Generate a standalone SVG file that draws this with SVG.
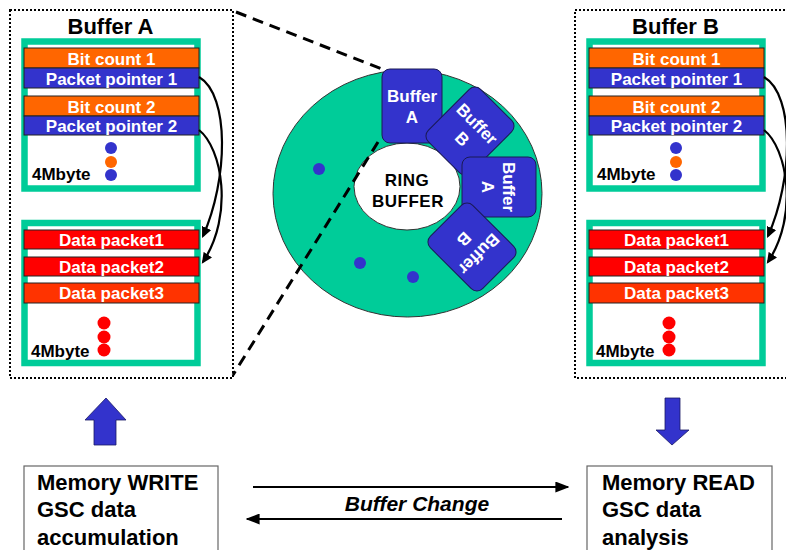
<svg xmlns="http://www.w3.org/2000/svg" width="786" height="550" viewBox="0 0 786 550">
<defs>
<style>
text{font-family:"Liberation Sans",Arial,sans-serif;font-weight:bold}
.dot{fill:none;stroke:#000;stroke-width:2;stroke-dasharray:2 2}
.grn{fill:#fff;stroke:#00CC99;stroke-width:6.5}
.bar{stroke:#222;stroke-width:1}
.org{fill:#FF6600}.blu{fill:#3333CC}.red{fill:#FF0000}.red3{fill:#FF3300}
.bt{fill:#fff;font-size:17px;text-anchor:middle}
.title{font-size:22px;fill:#000;text-anchor:middle}
.mb{font-size:17px;fill:#000}
.blk{fill:#3333CC;stroke:#1a1a55;stroke-width:1}
.bk{fill:#fff;font-size:17px;text-anchor:middle}
.curve{fill:none;stroke:#000;stroke-width:2.2;marker-end:url(#ah)}
.box{fill:#fff;stroke:#666;stroke-width:1.2}
.bx{font-size:22px;fill:#000}
.dash{stroke:#000;stroke-width:3;stroke-dasharray:11 7;fill:none}
</style>
<marker id="ah" viewBox="0 0 10 10" refX="8" refY="5" markerWidth="11" markerHeight="10" orient="auto" markerUnits="userSpaceOnUse" preserveAspectRatio="none">
<path d="M0,0 L10,5 L0,10 z" fill="#000"/>
</marker>
<marker id="ah2" viewBox="0 0 10 10" refX="9" refY="5" markerWidth="14" markerHeight="11" orient="auto" markerUnits="userSpaceOnUse" preserveAspectRatio="none">
<path d="M0,0 L10,5 L0,10 z" fill="#000"/>
</marker>
</defs>
<rect width="786" height="550" fill="#fff"/>

<g id="bufferA">
<rect class="dot" x="10" y="10" width="223" height="368"/>
<text class="title" x="110.5" y="34">Buffer A</text>
<rect class="grn" x="24.5" y="41.5" width="173" height="147"/>
<rect class="bar org" x="24" y="48" width="175" height="20"/>
<text class="bt" x="111.5" y="65">Bit count 1</text>
<rect class="bar blu" x="24" y="68" width="175" height="20"/>
<text class="bt" x="111.5" y="85">Packet pointer 1</text>
<rect class="bar org" x="24" y="96" width="175" height="20"/>
<text class="bt" x="111.5" y="113">Bit count 2</text>
<rect class="bar blu" x="24" y="116" width="175" height="19"/>
<text class="bt" x="111.5" y="132">Packet pointer 2</text>
<circle cx="111" cy="148" r="6" fill="#3333CC"/>
<circle cx="111" cy="162" r="6" fill="#FF6600"/>
<circle cx="111" cy="175" r="6" fill="#3333CC"/>
<text class="mb" x="32" y="180">4Mbyte</text>
<rect class="grn" x="24.5" y="223" width="173" height="140"/>
<rect class="bar red" x="24" y="230" width="175" height="19"/>
<text class="bt" x="111.5" y="246">Data packet1</text>
<rect class="bar red" x="24" y="257" width="175" height="19"/>
<text class="bt" x="111.5" y="273">Data packet2</text>
<rect class="bar red3" x="24" y="283" width="175" height="20"/>
<text class="bt" x="111.5" y="299">Data packet3</text>
<circle cx="104" cy="323" r="6.5" fill="#FF0000"/>
<circle cx="104" cy="337" r="6.5" fill="#FF0000"/>
<circle cx="104" cy="350" r="6.5" fill="#FF0000"/>
<text class="mb" x="31" y="357">4Mbyte</text>
</g>

<g id="bufferB">
<rect class="dot" x="575" y="10" width="230" height="368"/>
<text class="title" x="675.5" y="34">Buffer B</text>
<rect class="grn" x="589.5" y="41.5" width="173" height="147"/>
<rect class="bar org" x="589" y="48" width="175" height="20"/>
<text class="bt" x="676.5" y="65">Bit count 1</text>
<rect class="bar blu" x="589" y="68" width="175" height="20"/>
<text class="bt" x="676.5" y="85">Packet pointer 1</text>
<rect class="bar org" x="589" y="96" width="175" height="20"/>
<text class="bt" x="676.5" y="113">Bit count 2</text>
<rect class="bar blu" x="589" y="116" width="175" height="19"/>
<text class="bt" x="676.5" y="132">Packet pointer 2</text>
<circle cx="676" cy="148" r="6" fill="#3333CC"/>
<circle cx="676" cy="162" r="6" fill="#FF6600"/>
<circle cx="676" cy="175" r="6" fill="#3333CC"/>
<text class="mb" x="597" y="180">4Mbyte</text>
<rect class="grn" x="589.5" y="223" width="173" height="140"/>
<rect class="bar red" x="589" y="230" width="175" height="19"/>
<text class="bt" x="676.5" y="246">Data packet1</text>
<rect class="bar red" x="589" y="257" width="175" height="19"/>
<text class="bt" x="676.5" y="273">Data packet2</text>
<rect class="bar red3" x="589" y="283" width="175" height="20"/>
<text class="bt" x="676.5" y="299">Data packet3</text>
<circle cx="669" cy="323" r="6.5" fill="#FF0000"/>
<circle cx="669" cy="337" r="6.5" fill="#FF0000"/>
<circle cx="669" cy="350" r="6.5" fill="#FF0000"/>
<text class="mb" x="596" y="357">4Mbyte</text>
</g>

<g id="ring">
<ellipse cx="407.5" cy="193.5" rx="134.5" ry="123.5" fill="#00CC99" stroke="#333" stroke-width="1"/>
<ellipse cx="407" cy="186.5" rx="53" ry="43.5" fill="#fff" stroke="#333" stroke-width="1"/>
<text x="407" y="186" font-size="17" text-anchor="middle" letter-spacing="0.5" fill="#000">RING</text>
<text x="408" y="207" font-size="17" text-anchor="middle" letter-spacing="0.5" fill="#000">BUFFER</text>
<circle cx="319" cy="169" r="6" fill="#3333CC"/>
<circle cx="360" cy="263" r="6" fill="#3333CC"/>
<circle cx="413" cy="277" r="6" fill="#3333CC"/>
</g>
<g id="blockA1" transform="translate(412,106)">
<rect class="blk" x="-30" y="-37" width="60" height="74" rx="8"/>
<text class="bk" x="0" y="-4">Buffer</text><text class="bk" x="0" y="17">A</text>
</g>
<g id="blockB1" transform="translate(470,131) rotate(45)">
<rect class="blk" x="-30" y="-37" width="60" height="74" rx="8"/>
<text class="bk" x="0" y="-4">Buffer</text><text class="bk" x="0" y="17">B</text>
</g>
<g id="blockA2" transform="translate(499,187) rotate(90)">
<rect class="blk" x="-30" y="-37" width="60" height="74" rx="8"/>
<text class="bk" x="0" y="-4">Buffer</text><text class="bk" x="0" y="17">A</text>
</g>
<g id="blockB2" transform="translate(472,247) rotate(135)">
<rect class="blk" x="-30" y="-37" width="60" height="74" rx="8"/>
<text class="bk" x="0" y="-4">Buffer</text><text class="bk" x="0" y="17">B</text>
</g>

<g id="writeBox">
<rect class="box" x="24" y="466" width="194" height="100"/>
<text class="bx" x="37" y="490">Memory WRITE</text>
<text class="bx" x="37" y="517">GSC data</text>
<text class="bx" x="37" y="545">accumulation</text>
</g>
<g id="readBox">
<rect class="box" x="587" y="466" width="185" height="100"/>
<text class="bx" x="602" y="490">Memory READ</text>
<text class="bx" x="602" y="517">GSC data</text>
<text class="bx" x="602" y="545">analysis</text>
</g>

<g id="connectors">
<line class="dash" x1="236" y1="12" x2="382" y2="69"/>
<line class="dash" x1="378" y1="142" x2="233" y2="375"/>
<path class="curve" d="M199,77 C230,95 228,180 203,236"/>
<path class="curve" d="M199,130 C222,148 234,215 203,262"/>
<path class="curve" d="M764,77 C795,95 793,180 768,236"/>
<path class="curve" d="M764,130 C787,148 799,215 768,262"/>
<path d="M106,398 L126,420 L116,420 L116,445 L94,445 L94,420 L85,420 Z" fill="#3333CC" stroke="#1a1a66" stroke-width="0.8"/>
<path d="M672,445 L689,430 L680,430 L680,398 L665,398 L665,430 L656,430 Z" fill="#3333CC" stroke="#1a1a66" stroke-width="0.8"/>
<line x1="253" y1="487" x2="568" y2="487" stroke="#000" stroke-width="2" marker-end="url(#ah2)"/>
<line x1="562" y1="519" x2="247" y2="519" stroke="#000" stroke-width="2" marker-end="url(#ah2)"/>
<text x="417" y="511" font-size="21" font-style="italic" text-anchor="middle" fill="#000">Buffer Change</text>
</g>
</svg>
